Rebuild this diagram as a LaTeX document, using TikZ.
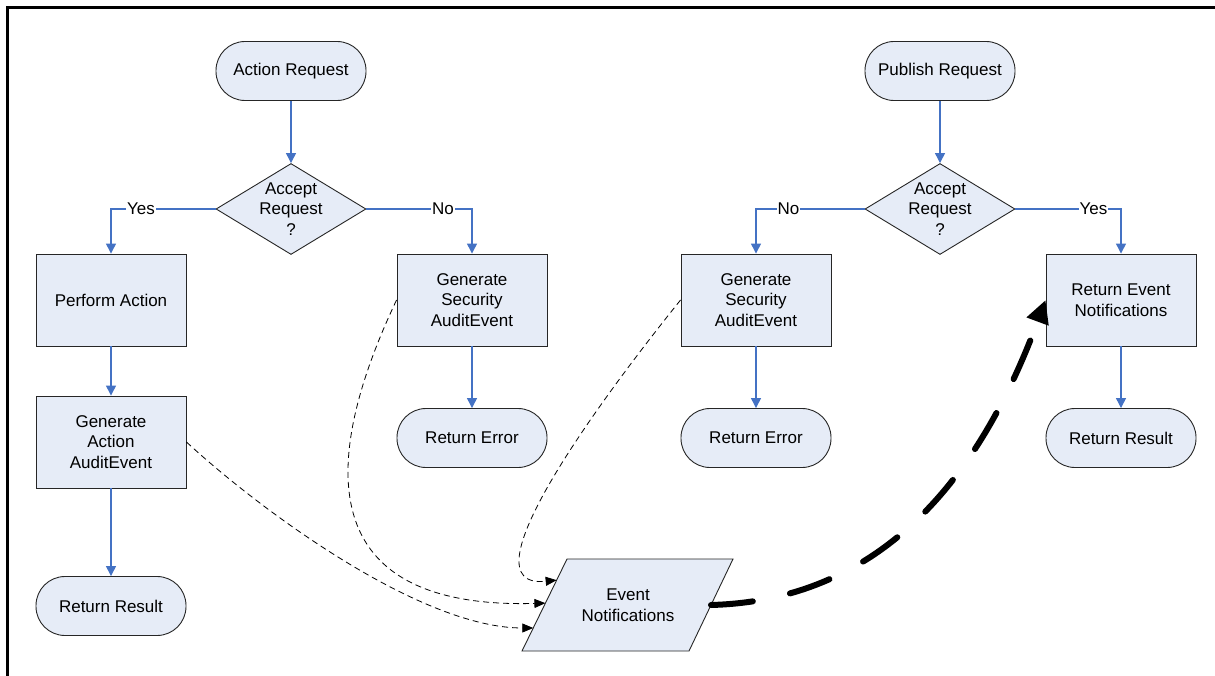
\documentclass[tikz,border=0pt]{standalone}
\usepackage{fontspec}
\setmainfont{Liberation Sans}
\usetikzlibrary{arrows.meta,shapes.geometric,calc}
\definecolor{boxfill}{RGB}{230,236,247}
\definecolor{conn}{RGB}{68,114,196}
\begin{document}
\begin{tikzpicture}[x=1pt,y=-1pt,
  every node/.style={font=\fontsize{17}{20.7}\selectfont, align=center, inner sep=0pt},
  base/.style={draw=black!85, fill=boxfill, line width=0.9pt},
  term/.style={base, rounded corners=29pt, minimum width=150pt, minimum height=59pt},
  proc/.style={base, minimum width=150pt, minimum height=92pt},
  dec/.style={base, diamond, minimum width=150pt, minimum height=91pt},
  flow/.style={draw=conn, line width=1.3pt, -{Triangle[width=10pt,length=10pt]}},
  lbl/.style={fill=white, inner xsep=1pt, inner ysep=1pt},
  evt/.style={draw=black, dash pattern=on 6pt off 4pt, line width=0.8pt, -{Triangle[width=9pt,length=11pt]}},
  big/.style={draw=black, line width=6pt, line cap=round, dash pattern=on 42pt off 38pt, -{Triangle[width=22pt,length=23pt]}}
]
\useasboundingbox (0,0) rectangle (1215,676);
\draw[line width=2.5pt] (7.5,676) -- (7.5,7.5) -- (1215,7.5);

% left flow
\node[term] (ar) at (291,71) {Action Request};
\node[dec] (d1) at (291,209) {};
\node (d1t) at (d1) {Accept\\Request\\?};
\node[proc] (pa) at (111,300) {Perform Action};
\node[proc] (ga) at (111,442) {Generate\\Action\\AuditEvent};
\node[term] (rr1) at (111,606) {Return Result};
\node[proc] (gs1) at (472,300) {Generate\\Security\\AuditEvent};
\node[term] (re1) at (472,438) {Return Error};

% right flow
\node[term] (pr) at (940,71) {Publish Request};
\node[dec] (d2) at (940,209) {};
\node (d2t) at (d2) {Accept\\Request\\?};
\node[proc] (gs2) at (756,300) {Generate\\Security\\AuditEvent};
\node[term] (re2) at (756,438) {Return Error};
\node[proc] (rev) at (1121,300) {Return Event\\Notifications};
\node[term] (rr2) at (1121,438) {Return Result};

% event notifications parallelogram
\coordinate (p1) at (522,651);
\coordinate (p2) at (567,559);
\coordinate (p3) at (733,559);
\coordinate (p4) at (689,651);
\draw[base] (p1) -- (p2) -- (p3) -- (p4) -- cycle;
\node (en) at (628,605) {Event\\Notifications};

% flow connectors
\draw[flow] (ar) -- (d1);
\draw[flow] (d1.west) -| node[lbl, pos=0.357] {Yes} (pa.north);
\draw[flow] (d1.east) -| node[lbl, pos=0.363] {No} (gs1.north);
\draw[flow] (pa) -- (ga);
\draw[flow] (ga) -- (rr1);
\draw[flow] (gs1) -- (re1);

\draw[flow] (pr) -- (d2);
\draw[flow] (d2.west) -| node[lbl, pos=0.35] {No} (gs2.north);
\draw[flow] (d2.east) -| node[lbl, pos=0.37] {Yes} (rev.north);
\draw[flow] (gs2) -- (re2);
\draw[flow] (rev) -- (rr2);

% event connectors
\draw[evt] (ga.east) .. controls (260,510) and (420,628) .. ($(p1)!0.25!(p2)$);
\draw[evt] (gs1.west) .. controls (335,430) and (290,610) .. ($(p1)!0.52!(p2)$);
\draw[evt] (gs2.west) .. controls (600,400) and (460,590) .. ($(p1)!0.77!(p2)$);
\draw[big] ($(p4)!0.5!(p3)$) .. controls (900,600) and (990,450) .. (rev.west);
\end{tikzpicture}
\end{document}
